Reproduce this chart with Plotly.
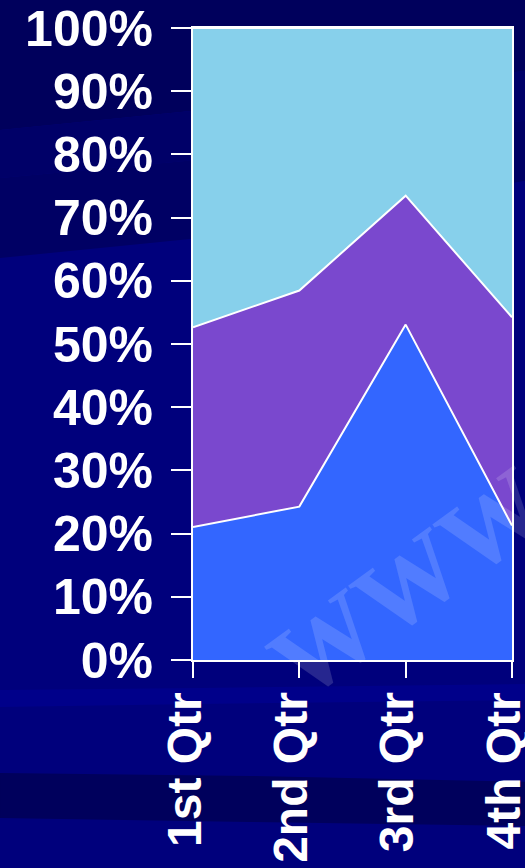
import plotly.graph_objects as go

categories = ["1st Qtr", "2nd Qtr", "3rd Qtr", "4th Qtr"]
east = [20.4, 27.4, 90, 20.4]
west = [30.6, 38.6, 34.6, 31.6]
north = [45.9, 46.9, 45, 43.9]
series_names = ["East", "West", "North"]
series_colors = ["#3366FF", "#7A48CE", "#87D0EB"]

W, H = 525, 868
ML, MR, MT, MB = 193, 13, 28, 208
PW, PH = W - ML - MR, H - MT - MB


def pp(x, y):
    return (x - ML) / PW, (H - MB - y) / PH


def poly(points):
    parts = []
    for i, (x, y) in enumerate(points):
        px, py = pp(x, y)
        parts.append(("M" if i == 0 else "L") + f"{px:.4f},{py:.4f}")
    return " ".join(parts) + " Z"


fig = go.Figure()
for name, vals, col in zip(series_names, [east, west, north], series_colors):
    fig.add_trace(go.Scatter(
        x=categories, y=vals, name=name, mode="lines",
        stackgroup="one", groupnorm="percent",
        line=dict(color="white", width=2),
        fillcolor=col, hoverinfo="skip",
    ))

bg_shapes = [
    ([(-5, -5), (530, -5), (530, 70), (300, 100), (0, 130)], "#00005C"),
    ([(0, 130), (300, 100), (530, 70), (530, 120), (250, 155), (0, 178)], "#000068"),
    ([(0, 178), (250, 155), (530, 120), (530, 180), (200, 238), (0, 258)], "#000064"),
    ([(0, 690), (200, 688), (530, 684), (530, 700), (200, 704), (0, 707)], "#00008A"),
    ([(0, 773), (250, 776), (530, 782), (530, 826), (250, 822), (0, 818)], "#00005C"),
]
shapes = []
for pts, col in bg_shapes:
    shapes.append(dict(type="path", xref="paper", yref="paper", path=poly(pts),
                       fillcolor=col, line=dict(width=0), layer="below"))

wx, wy = pp(408, 582)
fig.add_annotation(
    x=wx, y=wy, xref="paper", yref="paper", text="WWW", showarrow=False,
    textangle=-36, xanchor="center", yanchor="middle",
    font=dict(family="Liberation Serif", size=104, color="rgba(255,255,255,0.15)", weight="bold"),
)

axis_common = dict(
    showline=True, linecolor="white", linewidth=2, mirror=True,
    ticks="outside", tickcolor="white", tickwidth=2,
    showgrid=False, zeroline=False, automargin=False,
)

fig.update_layout(
    width=W, height=H, autosize=False,
    margin=dict(l=ML, r=MR, t=MT, b=MB, pad=0, autoexpand=False),
    paper_bgcolor="#00007C", plot_bgcolor="rgba(0,0,0,0)",
    showlegend=False,
    shapes=shapes,
    xaxis=dict(
        range=[0, 3], tickangle=-90, ticklen=16, ticklabelshift=-8, ticklabelstandoff=-5,
        tickfont=dict(family="Liberation Sans", size=48, color="white", weight="bold"),
        **axis_common,
    ),
    yaxis=dict(
        range=[0, 100], dtick=10, ticksuffix="%", ticklen=20, ticklabelstandoff=8,
        tickfont=dict(family="Liberation Sans", size=50, color="white", weight="bold"),
        **axis_common,
    ),
)

fig.write_html("out.html", config={"displayModeBar": False},
               post_script="document.body.style.margin='0';")
